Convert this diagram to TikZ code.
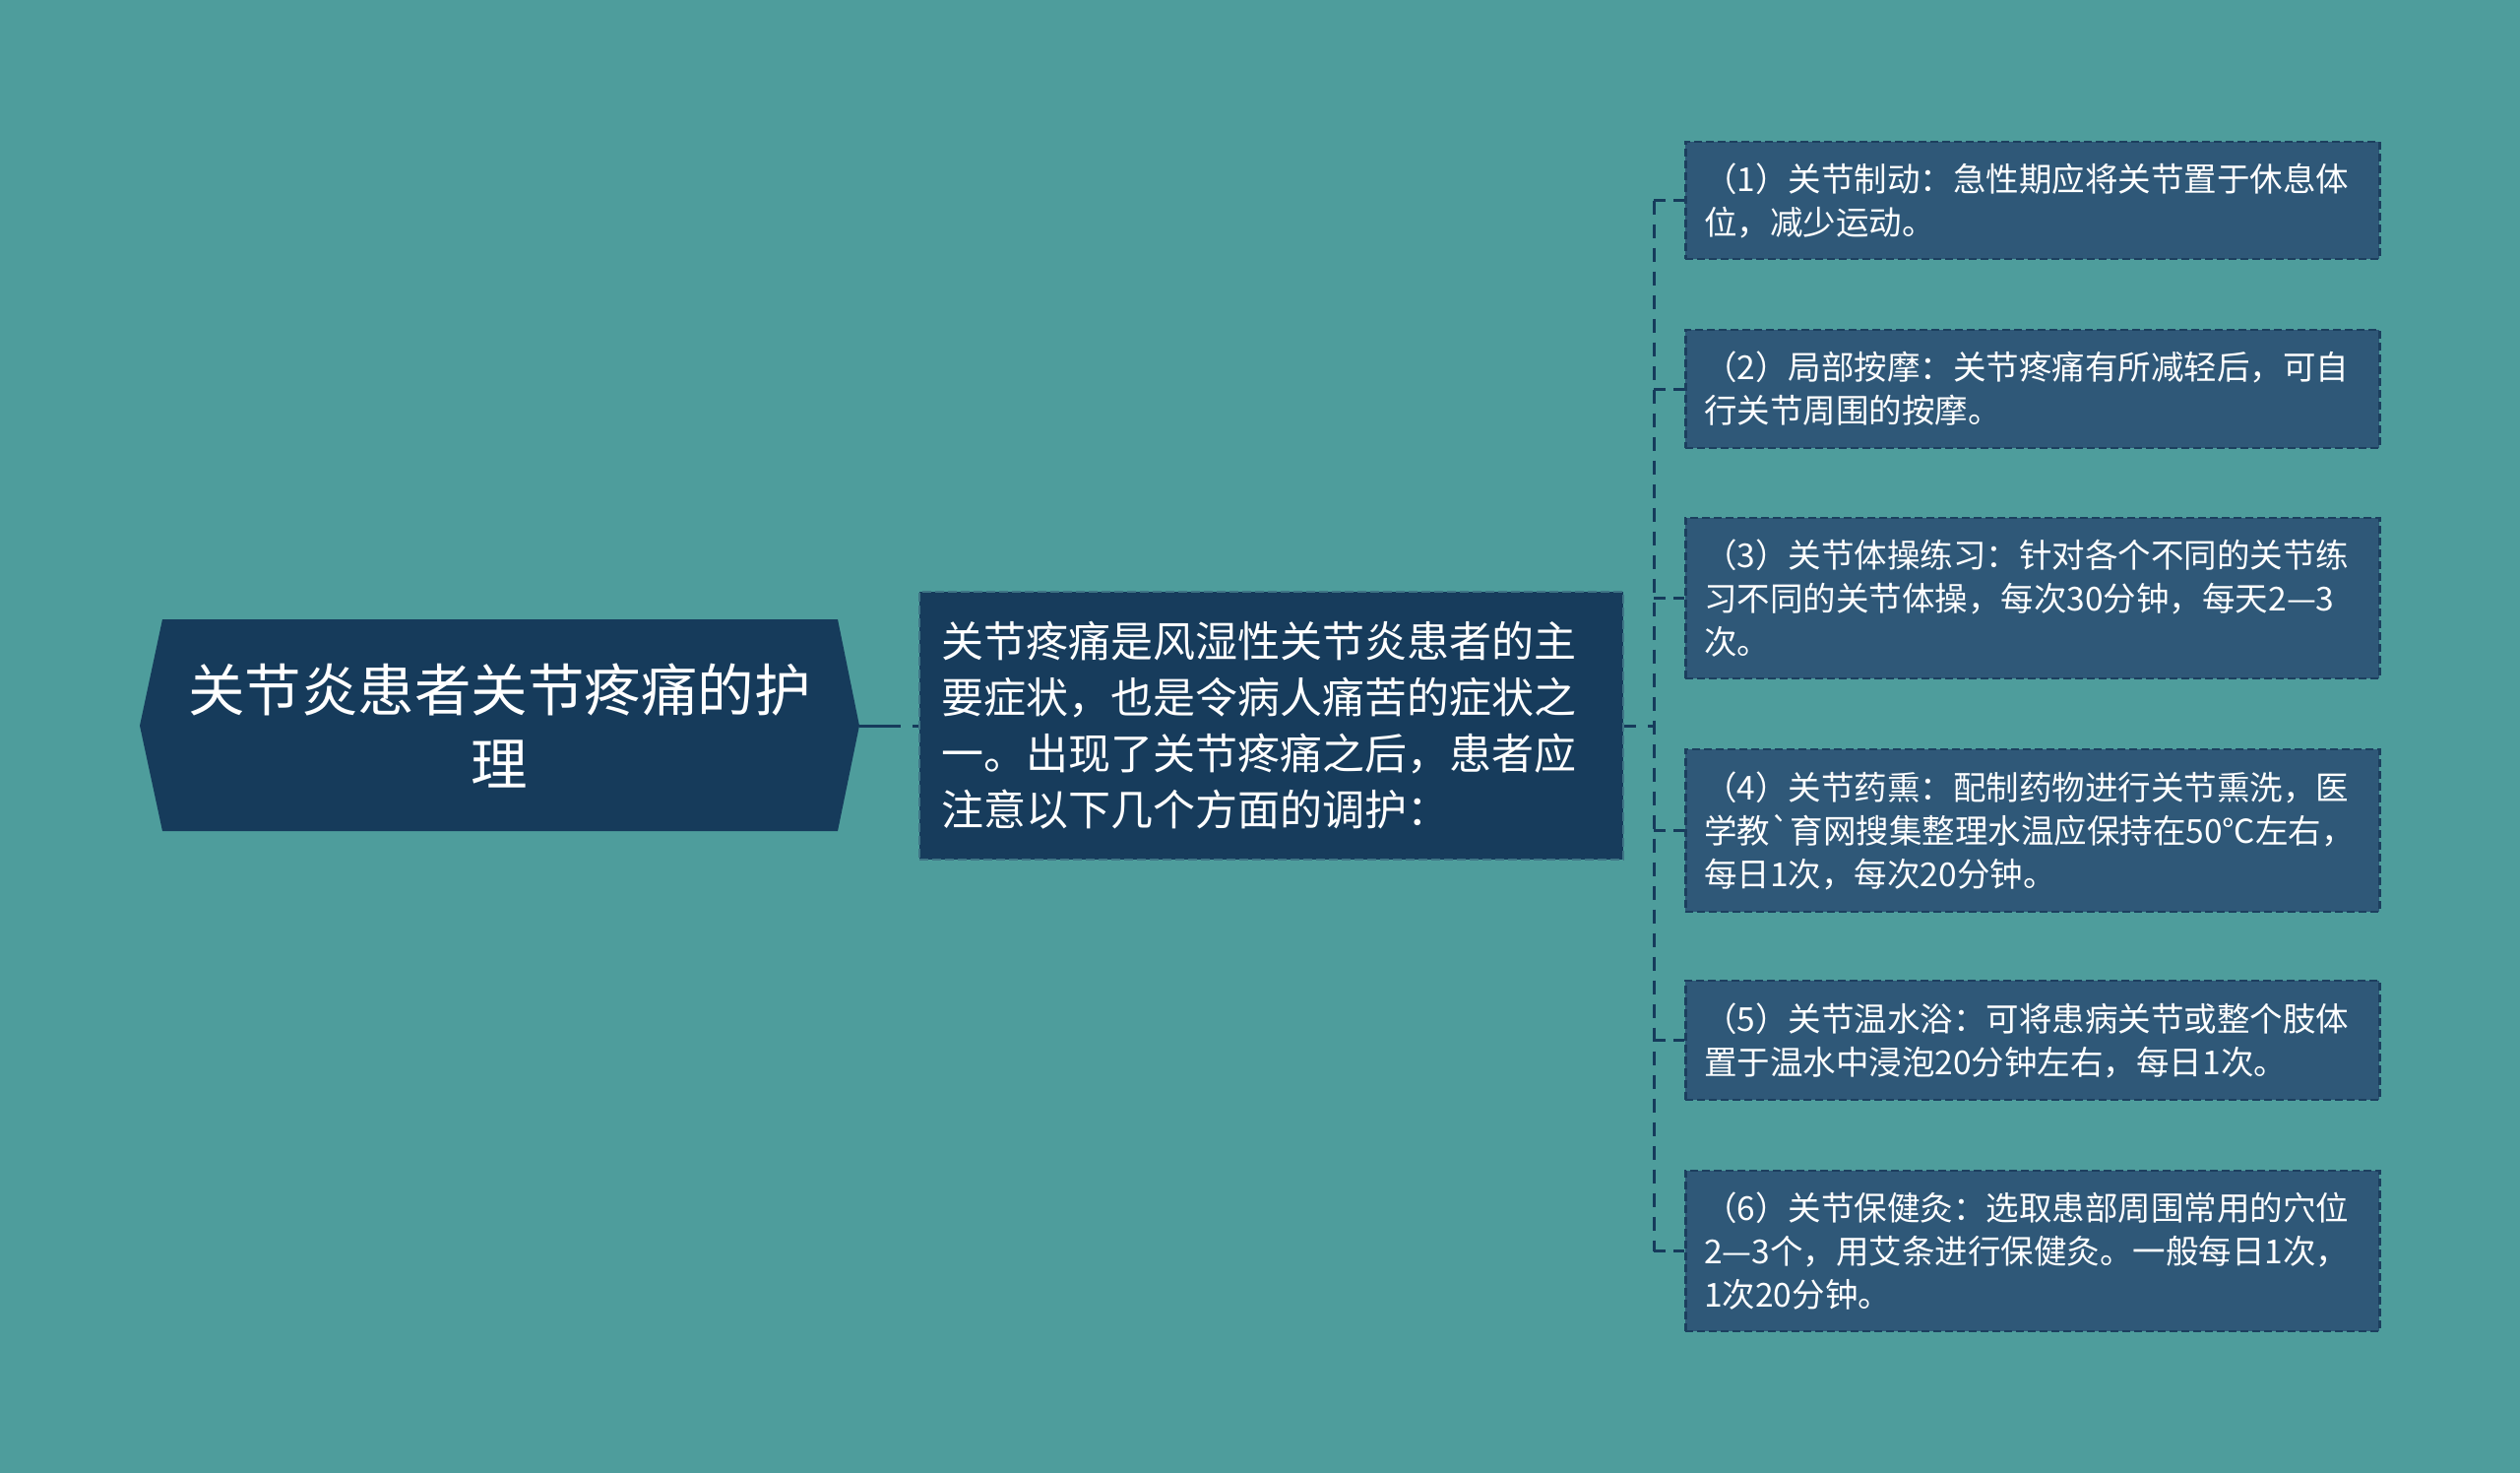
\documentclass[tikz,border=0pt]{standalone}
\usepackage{fontspec}
\newfontfamily\cjk{Noto Sans CJK SC}
\definecolor{bgteal}{HTML}{4E9D9C}
\definecolor{navy}{HTML}{163B5B}
\definecolor{midfill}{HTML}{173C5C}
\definecolor{midborder}{HTML}{3F7586}
\definecolor{leaffill}{HTML}{2F5878}
\definecolor{leafborder}{HTML}{1C3F5E}
\tikzset{
  leafbox/.style={draw=leafborder, line width=2.5pt, dash pattern=on 8pt off 4pt,
    fill=leaffill, text=white, font=\cjk\fontsize{33.5}{44}\selectfont,
    minimum width=705pt, text width=667pt, inner xsep=19pt, align=left, anchor=west},
  midbox/.style={draw=midborder, line width=2.5pt, dash pattern=on 9pt off 4pt,
    fill=midfill, text=white, font=\cjk\fontsize{43}{57}\selectfont,
    minimum width=715pt, minimum height=272pt, text width=671pt, inner xsep=22pt, align=left},
  rootlabel/.style={text=white, font=\cjk\fontsize{57.5}{75}\selectfont, align=center,
    minimum width=731pt, minimum height=215pt, inner sep=0pt},
  conn/.style={draw=navy, line width=3pt},
}
\begin{document}
\begin{tikzpicture}[x=1pt,y=-1pt]
\fill[bgteal] (0,0) rectangle (2560,1496);
\useasboundingbox (0,0) rectangle (2560,1496);
% root shape
\fill[navy] (142,737) -- (165,629) -- (851,629) -- (873,737) -- (851,844) -- (165,844) -- cycle;
\node[rootlabel] (root) at (507.5,737) {关节炎患者关节疼痛的护\\理};
% middle
\node[midbox] (mid) at (1291.5,737) {关节疼痛是风湿性关节炎患者的主\\要症状，也是令病人痛苦的症状之\\一。出现了关节疼痛之后，患者应\\注意以下几个方面的调护：};
% leaves
\node[leafbox, minimum height=119pt] (b1) at (1711,203.5) {（1）关节制动：急性期应将关节置于休息体\\位，减少运动。};
\node[leafbox, minimum height=120pt] (b2) at (1711,395) {（2）局部按摩：关节疼痛有所减轻后，可自\\行关节周围的按摩。};
\node[leafbox, minimum height=163pt] (b3) at (1711,607.5) {（3）关节体操练习：针对各个不同的关节练\\习不同的关节体操，每次30分钟，每天2—3\\次。};
\node[leafbox, minimum height=165pt] (b4) at (1711,843.5) {（4）关节药熏：配制药物进行关节熏洗，医\\学教`育网搜集整理水温应保持在50℃左右，\\每日1次，每次20分钟。};
\node[leafbox, minimum height=121pt] (b5) at (1711,1056.5) {（5）关节温水浴：可将患病关节或整个肢体\\置于温水中浸泡20分钟左右，每日1次。};
\node[leafbox, minimum height=163pt] (b6) at (1711,1270.5) {（6）关节保健灸：选取患部周围常用的穴位\\2—3个，用艾条进行保健灸。一般每日1次，\\1次20分钟。};
% connectors
\coordinate (bus) at (1680,737);
\begin{scope}[on background layer/.style={}]
\draw[conn, dash pattern=on 42pt off 12pt] (root.east) -- (mid.west);
\draw[conn, dash pattern=on 12pt off 12pt] (mid.east) -- (bus);
\draw[conn, dash pattern=on 14pt off 10pt] (b1.west -| bus) -- (b6.west -| bus);
\foreach \b in {b1,b2,b3,b4,b5,b6}
  \draw[conn, dash pattern=on 12pt off 8pt] (\b.west -| bus) -- (\b.west);
\end{scope}
\end{tikzpicture}
\end{document}
